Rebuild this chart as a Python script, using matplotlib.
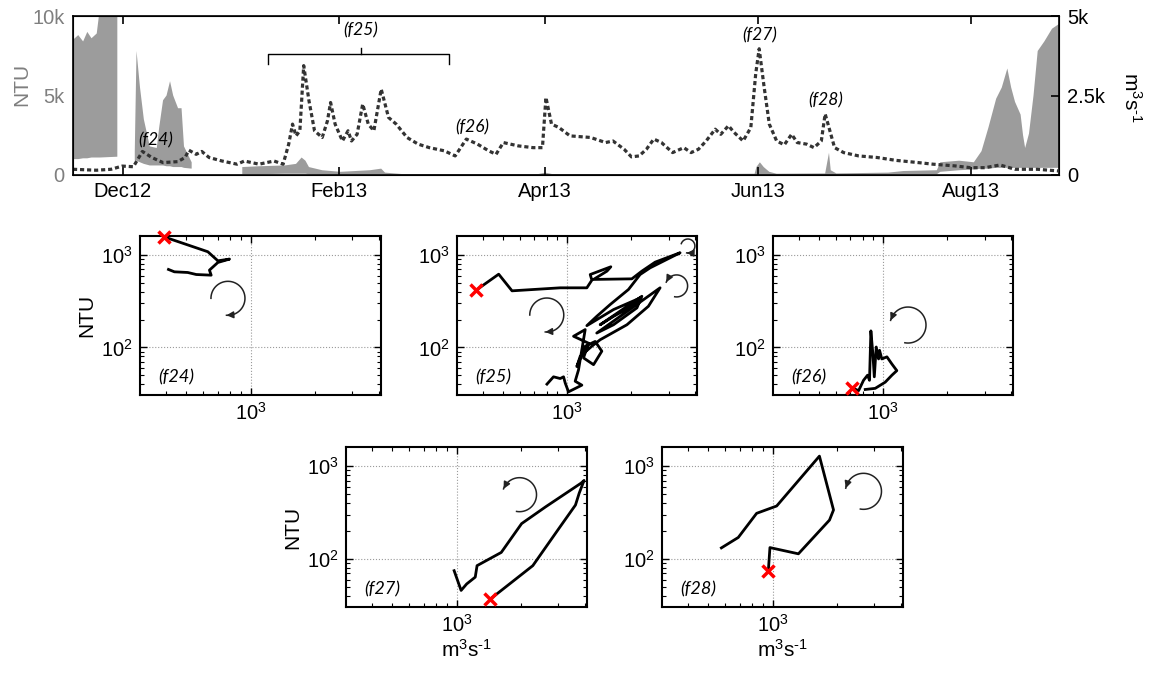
import numpy as np
import matplotlib

matplotlib.use("Agg")
import matplotlib.pyplot as plt
import matplotlib.dates as mdates
from matplotlib.ticker import NullFormatter, FixedLocator
from matplotlib.transforms import blended_transform_factory

plt.rcParams["font.family"] = ["Liberation Sans", "DejaVu Sans"]
plt.rcParams["mathtext.fontset"] = "custom"
plt.rcParams["mathtext.rm"] = "Liberation Sans"
plt.rcParams["mathtext.it"] = "Liberation Sans:italic"

W, H = 1151, 679
T0 = mdates.date2num(np.datetime64("2012-12-01"))
UNIT = r"m$^3$s$^{\text{-}1}$"

# discharge, m3/s (day offset from 1 Dec 2012)
q_day = [-14.3, -7.6, -3.4, -0.2, 3.0, 5.6, 8.3, 11.5, 15.7, 17.8,
         18.9, 21.0, 22.6, 24.7, 28.4, 32.7, 34.8, 39.0, 43.3, 45.9,
         47.5, 48.6, 49.6, 50.7, 51.8, 53.3, 54.9, 57.1, 58.6, 59.5,
         60.8, 62.9, 64.5, 65.5, 67.1, 68.7, 70.3, 71.9, 74.0, 76.1,
         78.3, 81.4, 84.6, 87.8, 92.1, 95.2, 98.4, 101.6, 104.8, 106.9,
         109.0, 113.3, 117.5, 120.2, 121.2, 122.8, 124.9, 128.1, 134.0, 138.3,
         140.4, 143.6, 145.7, 147.9, 150.0, 152.1, 154.3, 157.5, 160.7, 162.8,
         164.9, 167.1, 169.7, 171.3, 173.5, 175.1, 177.7, 179.9, 181.3, 182.3,
         183.6, 185.2, 187.3, 189.5, 191.6, 193.2, 195.9, 198.0, 200.1, 201.2,
         202.3, 203.9, 206.5, 210.8, 216.1, 221.5, 227.9, 232.1, 238.5, 242.8,
         247.0, 251.3, 255.6, 262.0, 268.2]
q_val = [180, 150, 180, 280, 260, 740, 550, 390, 420, 550,
         780, 650, 740, 550, 440, 340, 440, 340, 440, 340,
         970, 1600, 1230, 1390, 3440, 2340, 1390, 1180, 1700, 2280,
         1600, 1070, 1390, 1070, 1280, 2230, 1600, 1390, 2700, 1810,
         1600, 1180, 970, 860, 760, 600, 1130, 970, 760, 650,
         1020, 915, 860, 860, 2440, 1600, 1495, 1230, 1180, 1020,
         1070, 810, 570, 600, 810, 1130, 1020, 705, 860, 705,
         810, 1070, 1440, 1280, 1550, 1340, 1070, 1490, 3180, 3970,
         2860, 1600, 1070, 950, 1280, 1020, 970, 860, 1070, 1920,
         1490, 860, 705, 600, 550, 460, 390, 340, 285, 230,
         230, 315, 180, 180, 126]

# turbidity band, NTU (nan = no record)
nan = np.nan
ntu_day = [-14.3, -12.8, -11.4, -10.2, -9.0, -7.5, -6.6, -1.6, 1.0,
           3.4, 3.9, 4.9, 6.0, 7.7, 9.7, 10.4, 11.5, 12.5, 13.5, 14.4, 15.8, 16.8, 17.5, 19.7, 27.0,
           34.2, 39.0, 46.4, 49.6, 51.2, 52.3, 53.3, 57.1, 62.3, 70.8,
           74.0, 75.1, 80.0, 119.0, 121.0, 123.0, 160.0, 181.0, 181.5, 182.5,
           183.6, 185.2, 187.3, 201.2, 202.3, 202.8, 204.4, 219.3, 223.6, 233.2,
           234.2, 239.6, 243.8, 246.0, 248.0, 250.2, 251.8, 253.4, 254.5, 255.6,
           257.2, 257.9, 258.5, 259.6, 260.9, 262.1, 264.0, 266.2, 268.2]
ntu_hi = [8500, 8800, 8400, 9000, 8600, 8900, 10500, 10500, nan,
          1500, 7800, 5500, 3500, 1800, 1700, 3000, 4700, 5000, 5900, 5000, 4200, 4200, 1800, 800, nan,
          500, 550, 600, 700, 1100, 900, 500, 300, 200, 300,
          400, 150, 60, 60, 150, 60, 60, 80, 500, 800,
          500, 200, 80, 100, 1400, 300, 100, 150, 250, 300,
          800, 900, 800, 1500, 3000, 4800, 5500, 6700, 5500, 4600,
          3800, 2500, 1700, 2600, 5000, 7800, 8400, 9200, 9500]
ntu_lo = [1000, 1000, 1050, 1050, 1100, 1100, 1100, 1150, nan,
          900, 900, 800, 700, 600, 600, 600, 600, 550, 550, 500, 500, 500, 450, 400, nan,
          50, 50, 80, 80, 80, 80, 50, 30, 20, 20,
          20, 10, 0, 0, 0, 0, 0, 0, 0, 0,
          0, 0, 0, 0, 0, 0, 0, 20, 50, 50,
          200, 300, 350, 400, 400, 450, 450, 450, 450, 450,
          450, 450, 450, 450, 450, 450, 450, 450, 450]

# event labels on the time series (day, axes-fraction height)
ev_names = ["(f24)", "(f25)", "(f26)", "(f27)", "(f28)"]
ev_day = [9.5, 68.2, 100.2, 182.5, 201.4]
ev_y = [0.22, 0.91, 0.30, 0.878, 0.468]

# hysteresis loops: discharge (m3/s) vs turbidity (NTU)
f24_q = [391, 630, 702, 796, 702, 641, 653, 556, 507, 439, 412]
f24_ntu = [1581, 1087, 867, 905, 832, 687, 606, 616, 648, 659, 699]
f25_q = [373, 476, 550, 927, 1237, 1306, 1283, 1604, 1538, 1330,
         2014, 2245, 2594, 3397, 2839, 2456, 2203, 1942, 1592, 1377,
         1237, 1652, 2203, 2014, 1652, 1429, 2245, 2128, 1652, 1377,
         2735, 2410, 1910, 1429, 1306, 1151, 1110, 1215, 1354, 1455,
         1330, 1193, 1260, 1071, 1215, 1130, 1090, 1172, 1014, 979,
         961, 927, 862, 803]
f25_ntu = [417, 621, 410, 442, 442, 535, 616, 747, 670, 545,
           553, 670, 839, 1060, 861, 728, 616, 424, 291, 217,
           172, 257, 343, 279, 217, 176, 358, 268, 176, 143,
           442, 279, 176, 121, 103, 80, 62, 103, 116, 91,
           65, 77, 111, 132, 156, 57, 43, 39, 33, 41,
           48, 46, 48, 40]
f26_q = [713, 766, 808, 844, 862, 875, 894, 908, 927, 951, 961, 985, 1041, 1099, 1159, 1099, 1022, 917, 823]
f26_ntu = [36.5, 34, 44, 50, 44, 151, 85, 48, 101, 75, 93, 75, 79, 66, 56, 50, 42, 36, 35]
f27_q = [1435, 2274, 3006, 3603, 3750, 3953, 3830, 2614, 2015, 1618, 1246, 1222, 1114, 1049, 973]
f27_ntu = [37, 85, 212, 382, 512, 703, 658, 366, 241, 118, 85, 64, 54, 46, 75]
f28_q = [954, 971, 1320, 1846, 1928, 1656, 1044, 841, 690, 575]
f28_ntu = [74, 133, 114, 263, 338, 1284, 373, 311, 171, 132]

GREY = "#9c9c9c"
LABGREY = "#7f7f7f"


def px_rect(x0, y0, x1, y1):
    return [x0 / W, 1 - y1 / H, (x1 - x0) / W, (y1 - y0) / H]


def loop_arrow(ax, rect, cx, cy, r, t0, t1, lw=1.1):
    w, h = rect[2] * W, rect[3] * H
    t = np.radians(np.linspace(t0, t1, 80))
    xs = cx + r * np.cos(t) / w
    ys = cy + r * np.sin(t) / h
    ax.plot(xs, ys, transform=ax.transAxes, color="#222222", lw=lw, clip_on=False)
    ax.annotate("", xy=(xs[-1], ys[-1]), xytext=(xs[-6], ys[-6]),
                xycoords="axes fraction",
                arrowprops=dict(arrowstyle="-|>", color="#222222", lw=lw,
                                mutation_scale=10, shrinkA=0, shrinkB=0))


fig = plt.figure(figsize=(W / 100, H / 100), dpi=100)

# ---- time series ----
ax = fig.add_axes(px_rect(73, 16, 1059, 175))
x_ntu = T0 + np.array(ntu_day)
ax.fill_between(x_ntu, ntu_lo, ntu_hi, color=GREY, lw=0)
ax.set_ylim(0, 10000)
ax.set_yticks([0, 5000, 10000])
ax.set_yticklabels(["0", "5k", "10k"])
ax.tick_params(axis="y", colors=LABGREY, labelsize=14.5, direction="in", length=0, pad=6)
ax.tick_params(axis="x", direction="in", top=True, length=6, width=1.2, labelsize=14.5, pad=5)
ax.set_xlim(T0 - 14.3, T0 + 268.2)
ax.xaxis.set_major_locator(mdates.MonthLocator(bymonth=[12, 2, 4, 6, 8]))
ax.xaxis.set_major_formatter(mdates.DateFormatter("%b%y"))
for s in ax.spines.values():
    s.set_linewidth(1.2)

ax2 = ax.twinx()
ax2.plot(T0 + np.array(q_day), q_val, color="#333333", lw=2.3, ls=(0, (1.3, 0.9)))
ax2.set_ylim(0, 5000)
ax2.set_yticks([0, 2500, 5000])
ax2.set_yticklabels(["0", "2.5k", "5k"])
ax2.tick_params(axis="y", direction="in", length=6, width=1.2, labelsize=14.5, pad=6)
ax2.set_xlim(T0 - 14.3, T0 + 268.2)

tr = blended_transform_factory(ax2.transData, ax2.transAxes)
for name, d, y in zip(ev_names, ev_day, ev_y):
    ax2.text(T0 + d, y, name, transform=tr, ha="center", va="center",
             fontsize=12.5, family="Lato", style="italic")
bl, bc, br = T0 + 41.5, T0 + 68.2, T0 + 93.4
ax2.plot([bl, bl, br, br], [0.70, 0.762, 0.762, 0.70], transform=tr, color="black", lw=1.0)
ax2.plot([bc, bc], [0.762, 0.80], transform=tr, color="black", lw=1.0)

fig.text(22 / W, 1 - 84 / H, "NTU", rotation=90, ha="center", va="center",
         fontsize=15, color=LABGREY)
fig.text(1131 / W, 1 - 98 / H, UNIT, rotation=270, ha="center", va="center",
         fontsize=15)

# ---- hysteresis panels ----
panels = [
    ((140, 236, 381, 395), f24_q, f24_ntu, "(f24)", True, False,
     [(0.365, 0.608, 17, 180, -95)]),
    ((457, 236, 697, 395), f25_q, f25_ntu, "(f25)", False, False,
     [(0.374, 0.503, 17, 180, -95), (0.962, 0.937, 7, 160, -100), (0.915, 0.686, 11, -100, 160)]),
    ((773, 236, 1013, 395), f26_q, f26_ntu, "(f26)", False, False,
     [(0.5625, 0.44, 18, -100, 165)]),
    ((346, 447, 587, 607), f27_q, f27_ntu, "(f27)", True, True,
     [(0.72, 0.702, 17, -100, 160)]),
    ((662, 447, 903, 607), f28_q, f28_ntu, "(f28)", False, True,
     [(0.836, 0.723, 18, -100, 170)]),
]

for box, qq, nn, lab, ylab, xlab, arrows in panels:
    rect = px_rect(*box)
    a = fig.add_axes(rect)
    a.set_xscale("log")
    a.set_yscale("log")
    a.plot(qq, nn, color="black", lw=2.0, solid_joinstyle="round")
    a.plot(qq[0], nn[0], "x", color="red", ms=9, mew=2.5, clip_on=False, zorder=5)
    a.set_xlim(303, 4080)
    a.set_ylim(30.5, 1610)
    a.xaxis.set_major_locator(FixedLocator([1000]))
    a.yaxis.set_major_locator(FixedLocator([100, 1000]))
    a.xaxis.set_minor_formatter(NullFormatter())
    a.yaxis.set_minor_formatter(NullFormatter())
    a.grid(True, which="major", ls=":", color="#9a9a9a", lw=0.8)
    a.tick_params(which="both", direction="in", top=True, right=True, labelsize=14.5)
    a.tick_params(which="major", length=5, width=1.0, pad=5)
    a.tick_params(which="minor", length=3, width=0.8)
    for s in a.spines.values():
        s.set_linewidth(1.5)
    a.text(0.075, 0.11, lab, transform=a.transAxes, ha="left", va="center",
           fontsize=13, family="Lato", style="italic")
    if ylab:
        a.set_ylabel("NTU", fontsize=15, labelpad=4)
    if xlab:
        a.set_xlabel(UNIT, fontsize=15, labelpad=2)
    for cx, cy, r, t0, t1 in arrows:
        loop_arrow(a, rect, cx, cy, r, t0, t1)

fig.savefig("out.png", dpi=100)
